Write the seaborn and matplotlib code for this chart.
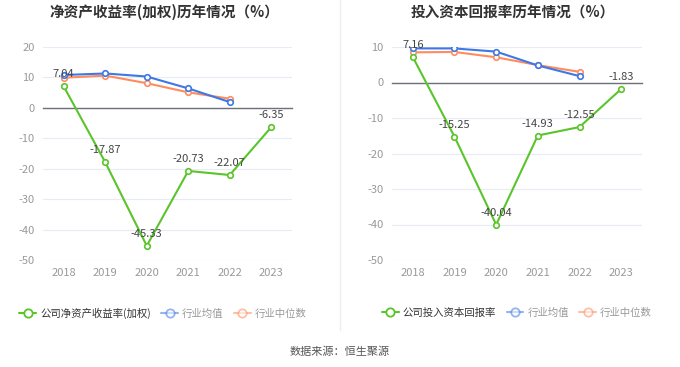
import matplotlib
matplotlib.use("Agg")
import matplotlib.pyplot as plt
from matplotlib.lines import Line2D
import seaborn as sns
import pandas as pd

sns.set_theme(style="white")
plt.rcParams['font.family'] = ['Noto Sans CJK SC', 'DejaVu Sans']
plt.rcParams['axes.unicode_minus'] = False

years = ["2018", "2019", "2020", "2021", "2022", "2023"]

roe_company = [7.04, -17.87, -45.33, -20.73, -22.07, -6.35]
roe_avg = [10.8, 11.3, 10.3, 6.4, 1.9]
roe_median = [9.9, 10.6, 8.1, 5.1, 3.0]

roic_company = [7.16, -15.25, -40.04, -14.93, -12.55, -1.83]
roic_avg = [9.6, 9.6, 8.7, 4.8, 1.8]
roic_median = [8.5, 8.6, 7.1, 4.9, 3.0]

titles = ["净资产收益率(加权)历年情况（%）", "投入资本回报率历年情况（%）"]
legend_names = [["公司净资产收益率(加权)", "行业均值", "行业中位数"],
                ["公司投入资本回报率", "行业均值", "行业中位数"]]
yticks_list = [[20, 10, 0, -10, -20, -30, -40, -50], [10, 0, -10, -20, -30, -40, -50]]
ylims = [(-50, 20), (-50, 10)]
source = "数据来源：恒生聚源"

GREEN = "#5AC42B"
BLUE = "#3D78E6"
ORANGE = "#FF8C5E"

fig = plt.figure(figsize=(6.8, 3.67), dpi=100)

ax_rects = [[43 / 680, 107 / 367, 249 / 680, 213 / 367],
            [392 / 680, 107 / 367, 250 / 680, 213 / 367]]
title_x = [164 / 680, 513 / 680]
legend_x = [163 / 680, 517 / 680]

datasets = [(roe_company, roe_avg, roe_median), (roic_company, roic_avg, roic_median)]

for k in range(2):
    comp, avg, med = datasets[k]
    ax = fig.add_axes(ax_rects[k])
    idx = list(range(len(years)))
    df_c = pd.DataFrame({"x": idx, "y": comp})
    df_a = pd.DataFrame({"x": idx[:len(avg)], "y": avg})
    df_m = pd.DataFrame({"x": idx[:len(med)], "y": med})
    for df, col, z in [(df_m, ORANGE, 3), (df_a, BLUE, 4), (df_c, GREEN, 5)]:
        sns.lineplot(data=df, x="x", y="y", ax=ax, color=col, linewidth=1.5,
                     marker="o", markersize=4, markerfacecolor="white",
                     markeredgecolor=col, markeredgewidth=1.2, zorder=z)
    for i, v in enumerate(comp):
        ax.annotate(f"{v:.2f}", (i, v), xytext=(0, 5), textcoords="offset points",
                    ha="center", va="bottom", fontsize=8, color="#444444", zorder=6)
    ax.set_xlim(-0.5, len(years) - 0.5)
    ax.set_ylim(*ylims[k])
    ax.set_yticks(yticks_list[k])
    ax.set_yticklabels([str(t) for t in yticks_list[k]])
    ax.tick_params(axis="y", length=0, labelsize=8, labelcolor="#999999", pad=6)
    ax.grid(axis="y", color="#E6EBF5", linewidth=0.8)
    ax.set_axisbelow(True)
    for s in ["left", "right", "top"]:
        ax.spines[s].set_visible(False)
    ax.spines["bottom"].set_position(("data", 0))
    ax.spines["bottom"].set_color("#6E7079")
    ax.spines["bottom"].set_linewidth(1.0)
    ax.set_xticks(idx)
    ax.tick_params(axis="x", direction="out", length=5, width=1.0, color="#6E7079",
                   labelbottom=False)
    ax.set_xlabel("")
    ax.set_ylabel("")
    sec = ax.secondary_xaxis("bottom")
    sec.set_xticks(idx)
    sec.set_xticklabels(years)
    sec.tick_params(length=0, labelsize=8, labelcolor="#999999", pad=6)
    sec.spines["bottom"].set_visible(False)

    fig.text(title_x[k], 1 - 12 / 367, titles[k], ha="center", va="center",
             fontsize=10.5, fontweight="bold", color="#333333")

    handles = [Line2D([], [], color=GREEN, marker="o", markersize=6, markerfacecolor="white",
                      markeredgewidth=1.3, linewidth=1.5),
               Line2D([], [], color=BLUE, marker="o", markersize=6, markerfacecolor="white",
                      markeredgewidth=1.3, linewidth=1.5, alpha=0.55),
               Line2D([], [], color=ORANGE, marker="o", markersize=6, markerfacecolor="white",
                      markeredgewidth=1.3, linewidth=1.5, alpha=0.55)]
    leg = fig.legend(handles, legend_names[k], loc="center", ncol=3,
                     bbox_to_anchor=(legend_x[k], 1 - 313 / 367), frameon=False,
                     fontsize=7.5, handlelength=1.6, handletextpad=0.4, columnspacing=1.0)
    for t, c in zip(leg.get_texts(), ["#333333", "#999999", "#999999"]):
        t.set_color(c)

fig.add_artist(Line2D([0.5, 0.5], [1 - 330 / 367, 1.0], transform=fig.transFigure,
                      color="#EEEEEE", linewidth=1.0))
fig.text(0.5, 1 - 352 / 367, source, ha="center", va="center", fontsize=8, color="#555555")

fig.savefig("out.png", dpi=100)
